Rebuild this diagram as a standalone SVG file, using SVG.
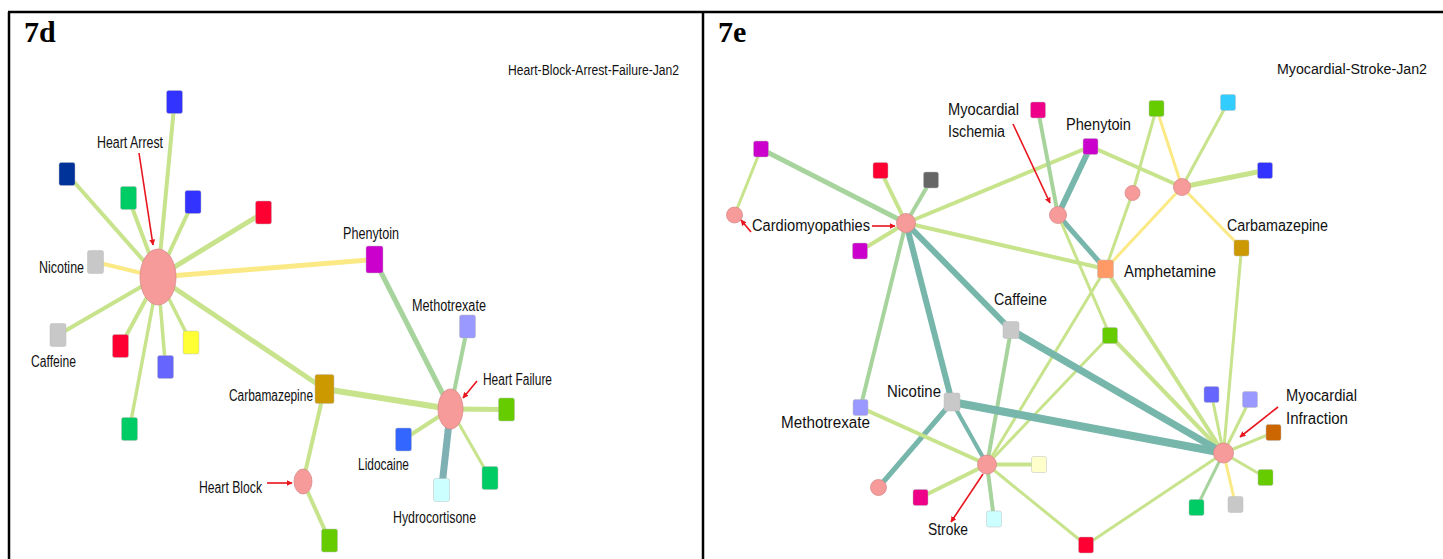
<svg xmlns="http://www.w3.org/2000/svg" width="1443" height="559" viewBox="0 0 1443 559">
<defs>
<marker id="ah" viewBox="0 0 10 10" refX="9" refY="5" markerWidth="6" markerHeight="6" orient="auto" markerUnits="userSpaceOnUse"><path d="M0,0 L10,5 L0,10 z" fill="#e8141e"/></marker>
<style>
.lbl{font-family:"Liberation Sans",Arial,sans-serif;font-size:16px;fill:#111111}
.sub{font-family:"Liberation Sans",Arial,sans-serif;font-size:14px;fill:#111111}
.ttl{font-family:"Liberation Serif","Times New Roman",serif;font-weight:bold;font-size:30px;fill:#000}
.e{fill:none;stroke-linecap:butt}
.lg{stroke:#c7e38c}
.yl{stroke:#fbe986}
.mg{stroke:#a7d49d}
.tl{stroke:#77b6ab}
.tl2{stroke:#7fb0b4}
.arr{stroke:#e8141e;stroke-width:1.6;fill:none;marker-end:url(#ah)}
.sq{stroke:#bbbbbb;stroke-width:0.8;stroke-opacity:0.6}
.dis{fill:#f79a9a;stroke:#d88a8a;stroke-width:0.8}
</style>
</defs>
<rect x="0" y="0" width="1443" height="559" fill="#ffffff"/>
<g id="frame" fill="none" stroke="#000">
<line x1="8" y1="12" x2="1443" y2="12" stroke-width="2.5"/>
<line x1="9" y1="12" x2="9" y2="559" stroke-width="2.5"/>
<line x1="703" y1="12" x2="703" y2="559" stroke-width="2.5"/>
</g>
<text class="ttl" x="24" y="42">7d</text>
<text class="ttl" x="718" y="42">7e</text>
<text class="sub" x="508" y="75" textLength="171" lengthAdjust="spacingAndGlyphs">Heart-Block-Arrest-Failure-Jan2</text>
<text class="sub" x="1277" y="74" textLength="150" lengthAdjust="spacingAndGlyphs">Myocardial-Stroke-Jan2</text>

<g id="connectors">
<!-- left panel -->
<line class="e lg" stroke-width="4" x1="158" y1="277" x2="174.5" y2="102"/>
<line class="e lg" stroke-width="4" x1="158" y1="277" x2="67" y2="174"/>
<line class="e lg" stroke-width="4" x1="158" y1="277" x2="128.5" y2="198"/>
<line class="e lg" stroke-width="4" x1="158" y1="277" x2="193" y2="202"/>
<line class="e lg" stroke-width="5" x1="158" y1="277" x2="263.5" y2="212.5"/>
<line class="e yl" stroke-width="4" x1="158" y1="277" x2="95.5" y2="262"/>
<line class="e yl" stroke-width="5" x1="158" y1="277" x2="374.5" y2="259.5"/>
<line class="e lg" stroke-width="4" x1="158" y1="277" x2="58" y2="335"/>
<line class="e lg" stroke-width="4" x1="158" y1="277" x2="120.5" y2="346"/>
<line class="e lg" stroke-width="3.5" x1="158" y1="277" x2="129.5" y2="429"/>
<line class="e lg" stroke-width="3.5" x1="158" y1="277" x2="165.5" y2="367"/>
<line class="e lg" stroke-width="3.5" x1="158" y1="277" x2="191" y2="342.5"/>
<line class="e lg" stroke-width="5" x1="158" y1="277" x2="324.5" y2="389"/>
<line class="e lg" stroke-width="6" x1="324.5" y1="389" x2="450.5" y2="409"/>
<line class="e lg" stroke-width="4" x1="324.5" y1="389" x2="303" y2="481.5"/>
<line class="e lg" stroke-width="4" x1="303" y1="481.5" x2="329.5" y2="540.5"/>
<line class="e mg" stroke-width="5" x1="374.5" y1="259.5" x2="450.5" y2="409"/>
<line class="e mg" stroke-width="4" x1="467.5" y1="326.5" x2="450.5" y2="409"/>
<line class="e lg" stroke-width="5" x1="450.5" y1="409" x2="506.5" y2="409.5"/>
<line class="e lg" stroke-width="4" x1="450.5" y1="409" x2="403.5" y2="439.5"/>
<line class="e lg" stroke-width="3" x1="450.5" y1="409" x2="490" y2="478"/>
<line class="e tl2" stroke-width="7" x1="450.5" y1="409" x2="441.5" y2="490"/>
<!-- right panel -->
<line class="e mg" stroke-width="5" x1="906" y1="223" x2="761" y2="149"/>
<line class="e lg" stroke-width="3" x1="761" y1="149" x2="734.5" y2="215"/>
<line class="e lg" stroke-width="4" x1="906" y1="223" x2="880.5" y2="170.5"/>
<line class="e mg" stroke-width="4" x1="906" y1="223" x2="931" y2="180"/>
<line class="e lg" stroke-width="4" x1="906" y1="223" x2="860" y2="251"/>
<line class="e lg" stroke-width="4" x1="906" y1="223" x2="1090.5" y2="146.5"/>
<line class="e lg" stroke-width="4" x1="906" y1="223" x2="1105.5" y2="269"/>
<line class="e tl" stroke-width="6" x1="906" y1="223" x2="1011" y2="330"/>
<line class="e tl" stroke-width="6" x1="906" y1="223" x2="952" y2="402"/>
<line class="e mg" stroke-width="4" x1="906" y1="223" x2="860.5" y2="407.5"/>
<line class="e mg" stroke-width="4" x1="1058" y1="215" x2="1038" y2="110"/>
<line class="e tl" stroke-width="6" x1="1058" y1="215" x2="1090.5" y2="146.5"/>
<line class="e tl" stroke-width="5" x1="1058" y1="215" x2="1105.5" y2="269"/>
<line class="e lg" stroke-width="3" x1="1058" y1="215" x2="1110" y2="335.5"/>
<line class="e lg" stroke-width="4" x1="1090.5" y1="146.5" x2="1182" y2="187"/>
<line class="e lg" stroke-width="3" x1="1156.5" y1="108.5" x2="1132.5" y2="193"/>
<line class="e lg" stroke-width="3" x1="1132.5" y1="193" x2="1105.5" y2="269"/>
<line class="e yl" stroke-width="3" x1="1156.5" y1="108.5" x2="1182" y2="187"/>
<line class="e lg" stroke-width="3" x1="1228" y1="102.5" x2="1182" y2="187"/>
<line class="e lg" stroke-width="5" x1="1265" y1="170.5" x2="1182" y2="187"/>
<line class="e yl" stroke-width="3" x1="1182" y1="187" x2="1241.5" y2="248"/>
<line class="e yl" stroke-width="3" x1="1182" y1="187" x2="1105.5" y2="269"/>
<line class="e lg" stroke-width="3" x1="1241.5" y1="248" x2="1223.5" y2="453"/>
<line class="e lg" stroke-width="3" x1="1105.5" y1="269" x2="987" y2="464.5"/>
<line class="e lg" stroke-width="4" x1="1105.5" y1="269" x2="1223.5" y2="453"/>
<line class="e lg" stroke-width="3" x1="1110" y1="335.5" x2="987" y2="464.5"/>
<line class="e lg" stroke-width="4" x1="1110" y1="335.5" x2="1223.5" y2="453"/>
<line class="e tl" stroke-width="7" x1="1011" y1="330" x2="1223.5" y2="453"/>
<line class="e mg" stroke-width="4" x1="1011" y1="330" x2="987" y2="464.5"/>
<line class="e tl" stroke-width="8" x1="952" y1="402" x2="1223.5" y2="453"/>
<line class="e tl" stroke-width="4" x1="952" y1="402" x2="987" y2="464.5"/>
<line class="e tl" stroke-width="5" x1="952" y1="402" x2="878.5" y2="487.5"/>
<line class="e lg" stroke-width="4" x1="860.5" y1="407.5" x2="987" y2="464.5"/>
<line class="e lg" stroke-width="4" x1="987" y1="464.5" x2="920.5" y2="497.5"/>
<line class="e mg" stroke-width="4" x1="987" y1="464.5" x2="994" y2="519"/>
<line class="e lg" stroke-width="4" x1="987" y1="464.5" x2="1039" y2="464.5"/>
<line class="e lg" stroke-width="3" x1="987" y1="464.5" x2="1086" y2="545"/>
<line class="e lg" stroke-width="3" x1="1086" y1="545" x2="1223.5" y2="453"/>
<line class="e lg" stroke-width="3" x1="1223.5" y1="453" x2="1211.5" y2="394.5"/>
<line class="e lg" stroke-width="3" x1="1223.5" y1="453" x2="1250" y2="399.5"/>
<line class="e lg" stroke-width="3" x1="1223.5" y1="453" x2="1273.5" y2="432.5"/>
<line class="e lg" stroke-width="3" x1="1223.5" y1="453" x2="1265.5" y2="477.5"/>
<line class="e yl" stroke-width="3" x1="1223.5" y1="453" x2="1235.5" y2="504.5"/>
<line class="e mg" stroke-width="3" x1="1223.5" y1="453" x2="1196.5" y2="507.5"/>
</g>

<!-- left panel nodes -->
<g id="L-heart-arrest"><ellipse class="dis" cx="158" cy="277" rx="18" ry="28"/><text class="lbl" x="97" y="148" textLength="66" lengthAdjust="spacingAndGlyphs">Heart Arrest</text></g>
<g id="L-blue1"><rect class="sq" x="166.5" y="90.5" width="16" height="23" rx="2" fill="#3333ff"/></g>
<g id="L-navy"><rect class="sq" x="59" y="162.5" width="16" height="23" rx="2" fill="#003399"/></g>
<g id="L-green1"><rect class="sq" x="120.5" y="186.5" width="16" height="23" rx="2" fill="#00cc66"/></g>
<g id="L-blue2"><rect class="sq" x="185" y="190.5" width="16" height="23" rx="2" fill="#3333ff"/></g>
<g id="L-red1"><rect class="sq" x="255.5" y="201" width="16" height="23" rx="2" fill="#ff0033"/></g>
<g id="L-nicotine"><rect class="sq" x="87.5" y="250.5" width="16" height="23" rx="2" fill="#c8c8c8"/><text class="lbl" x="39" y="273" textLength="45" lengthAdjust="spacingAndGlyphs">Nicotine</text></g>
<g id="L-caffeine"><rect class="sq" x="50" y="323.5" width="16" height="23" rx="2" fill="#c8c8c8"/><text class="lbl" x="31" y="367" textLength="45" lengthAdjust="spacingAndGlyphs">Caffeine</text></g>
<g id="L-red2"><rect class="sq" x="112.5" y="334.5" width="16" height="23" rx="2" fill="#ff0033"/></g>
<g id="L-violet"><rect class="sq" x="157.5" y="355.5" width="16" height="23" rx="2" fill="#6666ff"/></g>
<g id="L-yellow"><rect class="sq" x="183" y="331" width="16" height="23" rx="2" fill="#ffff33"/></g>
<g id="L-green2"><rect class="sq" x="121.5" y="417.5" width="16" height="23" rx="2" fill="#00cc66"/></g>
<g id="L-carbamazepine"><rect class="sq" x="315" y="374.5" width="19" height="29" rx="2" fill="#cc9900"/><text class="lbl" x="229" y="401" textLength="84" lengthAdjust="spacingAndGlyphs">Carbamazepine</text></g>
<g id="L-heart-block"><ellipse class="dis" cx="303" cy="481.5" rx="9" ry="12.5"/><text class="lbl" x="199" y="493" textLength="63" lengthAdjust="spacingAndGlyphs">Heart Block</text></g>
<g id="L-green3"><rect class="sq" x="321.5" y="529" width="16" height="23" rx="2" fill="#66cc00"/></g>
<g id="L-phenytoin"><rect class="sq" x="366" y="246" width="17" height="27" rx="2" fill="#cc00cc"/><text class="lbl" x="343" y="239" textLength="56" lengthAdjust="spacingAndGlyphs">Phenytoin</text></g>
<g id="L-methotrexate"><rect class="sq" x="459.5" y="315" width="16" height="23" rx="2" fill="#9999ff"/><text class="lbl" x="412" y="311" textLength="74" lengthAdjust="spacingAndGlyphs">Methotrexate</text></g>
<g id="L-heart-failure"><ellipse class="dis" cx="450.5" cy="409" rx="12.5" ry="20"/><text class="lbl" x="483" y="385" textLength="69" lengthAdjust="spacingAndGlyphs">Heart Failure</text></g>
<g id="L-green4"><rect class="sq" x="498.5" y="398" width="16" height="23" rx="2" fill="#66cc00"/></g>
<g id="L-lidocaine"><rect class="sq" x="395.5" y="428" width="16" height="23" rx="2" fill="#3366ff"/><text class="lbl" x="358" y="470" textLength="51" lengthAdjust="spacingAndGlyphs">Lidocaine</text></g>
<g id="L-green5"><rect class="sq" x="482" y="466.5" width="16" height="23" rx="2" fill="#00cc66"/></g>
<g id="L-hydrocortisone"><rect class="sq" x="433.5" y="478.5" width="16" height="23" rx="2" fill="#ccffff" stroke="#aaaaaa"/><text class="lbl" x="393" y="523" textLength="83" lengthAdjust="spacingAndGlyphs">Hydrocortisone</text></g>

<!-- right panel nodes -->
<g id="R-cardiomyopathies"><circle class="dis" cx="906" cy="223" r="9.5"/><text class="lbl" x="752" y="231" textLength="118" lengthAdjust="spacingAndGlyphs">Cardiomyopathies</text></g>
<g id="R-cardio2"><circle class="dis" cx="734.5" cy="215" r="8"/></g>
<g id="R-mag1"><rect class="sq" x="753.5" y="141" width="15" height="16" rx="2" fill="#cc00cc"/></g>
<g id="R-red1"><rect class="sq" x="873" y="162.5" width="15" height="16" rx="2" fill="#ff0033"/></g>
<g id="R-grey1"><rect class="sq" x="923.5" y="172" width="15" height="16" rx="2" fill="#666666"/></g>
<g id="R-mag2"><rect class="sq" x="852.5" y="243" width="15" height="16" rx="2" fill="#cc00cc"/></g>
<g id="R-ischemia"><circle class="dis" cx="1058" cy="215" r="8.5"/><text class="lbl" x="948" y="115" textLength="71" lengthAdjust="spacingAndGlyphs">Myocardial</text><text class="lbl" x="948" y="137" textLength="57" lengthAdjust="spacingAndGlyphs">Ischemia</text></g>
<g id="R-pink1"><rect class="sq" x="1030.5" y="102" width="15" height="16" rx="2" fill="#ee0088"/></g>
<g id="R-phenytoin"><rect class="sq" x="1083" y="138.5" width="15" height="16" rx="2" fill="#cc00cc"/><text class="lbl" x="1066" y="130" textLength="65" lengthAdjust="spacingAndGlyphs">Phenytoin</text></g>
<g id="R-green1"><rect class="sq" x="1149" y="100.5" width="15" height="16" rx="2" fill="#66cc00"/></g>
<g id="R-cyan"><rect class="sq" x="1220.5" y="94.5" width="15" height="16" rx="2" fill="#33ccff"/></g>
<g id="R-small-circle"><circle class="dis" cx="1132.5" cy="193" r="7.5"/></g>
<g id="R-hub2"><circle class="dis" cx="1182" cy="187" r="8.5"/></g>
<g id="R-blue"><rect class="sq" x="1257.5" y="162.5" width="15" height="16" rx="2" fill="#3333ff"/></g>
<g id="R-carbamazepine"><rect class="sq" x="1234" y="240" width="15" height="16" rx="2" fill="#cc9900"/><text class="lbl" x="1227" y="231" textLength="101" lengthAdjust="spacingAndGlyphs">Carbamazepine</text></g>
<g id="R-amphetamine"><rect class="sq" x="1097.5" y="260" width="16" height="18" rx="2" fill="#ff9966"/><text class="lbl" x="1124" y="277" textLength="92" lengthAdjust="spacingAndGlyphs">Amphetamine</text></g>
<g id="R-caffeine"><rect class="sq" x="1003" y="321.5" width="16" height="17" rx="2" fill="#c8c8c8"/><text class="lbl" x="994" y="305" textLength="53" lengthAdjust="spacingAndGlyphs">Caffeine</text></g>
<g id="R-nicotine"><rect class="sq" x="944" y="393" width="16" height="18" rx="2" fill="#c8c8c8"/><text class="lbl" x="887" y="397" textLength="54" lengthAdjust="spacingAndGlyphs">Nicotine</text></g>
<g id="R-methotrexate"><rect class="sq" x="853" y="399.5" width="15" height="16" rx="2" fill="#9999ff"/><text class="lbl" x="781" y="428" textLength="89" lengthAdjust="spacingAndGlyphs">Methotrexate</text></g>
<g id="R-stroke"><circle class="dis" cx="987" cy="464.5" r="9.5"/><text class="lbl" x="928" y="535" textLength="40" lengthAdjust="spacingAndGlyphs">Stroke</text></g>
<g id="R-circle-ll"><circle class="dis" cx="878.5" cy="487.5" r="8"/></g>
<g id="R-pink2"><rect class="sq" x="913" y="489.5" width="15" height="16" rx="2" fill="#ee0088"/></g>
<g id="R-lcyan"><rect class="sq" x="986.5" y="511" width="15" height="16" rx="2" fill="#ccffff" stroke="#aaaaaa"/></g>
<g id="R-lyellow"><rect class="sq" x="1031.5" y="456.5" width="15" height="16" rx="2" fill="#ffffcc" stroke="#aaaaaa"/></g>
<g id="R-green2"><rect class="sq" x="1102.5" y="327.5" width="15" height="16" rx="2" fill="#66cc00"/></g>
<g id="R-mi"><circle class="dis" cx="1223.5" cy="453" r="10"/><text class="lbl" x="1286" y="401" textLength="71" lengthAdjust="spacingAndGlyphs">Myocardial</text><text class="lbl" x="1286" y="424" textLength="62" lengthAdjust="spacingAndGlyphs">Infraction</text></g>
<g id="R-bviolet"><rect class="sq" x="1204" y="386.5" width="15" height="16" rx="2" fill="#6666ff"/></g>
<g id="R-lviolet"><rect class="sq" x="1242.5" y="391.5" width="15" height="16" rx="2" fill="#9999ff"/></g>
<g id="R-orange"><rect class="sq" x="1266" y="424.5" width="15" height="16" rx="2" fill="#cc6600"/></g>
<g id="R-green3"><rect class="sq" x="1258" y="469.5" width="15" height="16" rx="2" fill="#66cc00"/></g>
<g id="R-grey2"><rect class="sq" x="1228" y="496.5" width="15" height="16" rx="2" fill="#c8c8c8"/></g>
<g id="R-teal"><rect class="sq" x="1189" y="499.5" width="15" height="16" rx="2" fill="#00cc66"/></g>
<g id="R-red2"><rect class="sq" x="1078.5" y="537" width="15" height="16" rx="2" fill="#ff0033"/></g>

<g id="arrows">
<line class="arr" x1="139" y1="153" x2="153" y2="245"/>
<line class="arr" x1="267" y1="483" x2="292" y2="483"/>
<line class="arr" x1="477" y1="381" x2="463" y2="398"/>
<line class="arr" x1="872" y1="226" x2="895" y2="226"/>
<line class="arr" x1="751" y1="232" x2="741" y2="220"/>
<line class="arr" x1="1013" y1="124" x2="1050" y2="203"/>
<line class="arr" x1="983" y1="474" x2="951" y2="522"/>
<line class="arr" x1="1278" y1="407" x2="1240" y2="437"/>
</g>
</svg>
